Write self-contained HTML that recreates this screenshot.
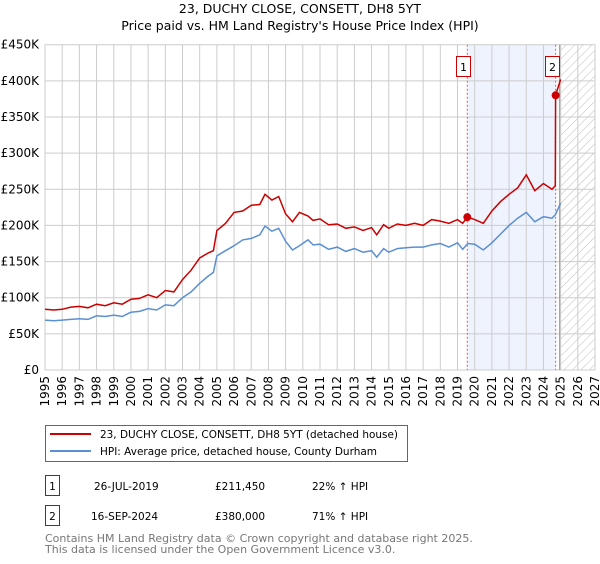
<!DOCTYPE html>
<html><head><meta charset="utf-8"><style>
body{margin:0;background:#fff;font-family:"DejaVu Sans","Liberation Sans",sans-serif;}
svg text{font-family:"DejaVu Sans","Liberation Sans",sans-serif;}
</style></head><body>
<svg id="chart" width="600" height="560" xmlns="http://www.w3.org/2000/svg">
<defs><pattern id="hatch" width="6" height="6" patternUnits="userSpaceOnUse" patternTransform="rotate(45)"><line x1="0" y1="0" x2="0" y2="6" stroke="#bbb" stroke-width="1"/></pattern></defs>
<text x="300" y="13" font-size="12.5" text-anchor="middle">23, DUCHY CLOSE, CONSETT, DH8 5YT</text>
<text x="300" y="30" font-size="12.5" text-anchor="middle">Price paid vs. HM Land Registry's House Price Index (HPI)</text>
<g id="plot"></g>
<rect x="45.5" y="425.5" width="362" height="36" fill="#fff" stroke="#666"/>
<line x1="50" y1="434" x2="91" y2="434" stroke="#cc0000" stroke-width="2"/>
<text x="100" y="438" font-size="10.5" textLength="298" lengthAdjust="spacingAndGlyphs">23, DUCHY CLOSE, CONSETT, DH8 5YT (detached house)</text>
<line x1="50" y1="451" x2="91" y2="451" stroke="#5b8fd4" stroke-width="2"/>
<text x="100" y="455" font-size="10.5" textLength="277" lengthAdjust="spacingAndGlyphs">HPI: Average price, detached house, County Durham</text>
<g font-size="10.5">
<rect x="45.5" y="475.5" width="14" height="20" fill="#fff" stroke="#cc0000"/><text x="52.5" y="490" text-anchor="middle">1</text>
<text x="94" y="490">26-JUL-2019</text><text x="215" y="490">£211,450</text><text x="312" y="490">22% ↑ HPI</text></g>
<g font-size="10.5">
<rect x="45.5" y="505.5" width="14" height="20" fill="#fff" stroke="#cc0000"/><text x="52.5" y="520" text-anchor="middle">2</text>
<text x="91" y="520">16-SEP-2024</text><text x="215" y="520">£380,000</text><text x="312" y="520">71% ↑ HPI</text></g>
<text x="45" y="542" font-size="11" fill="#777">Contains HM Land Registry data © Crown copyright and database right 2025.</text>
<text x="45" y="553" font-size="11" fill="#777">This data is licensed under the Open Government Licence v3.0.</text>
</svg>
<script>
const hpiYears=[1995,1995.5,1996,1996.5,1997,1997.5,1998,1998.5,1999,1999.5,2000,2000.5,2001,2001.5,2002,2002.5,2003,2003.5,2004,2004.5,2004.8,2005,2005.5,2006,2006.5,2007,2007.5,2007.8,2008.2,2008.6,2009,2009.4,2009.8,2010.3,2010.6,2011,2011.5,2012,2012.5,2013,2013.5,2014,2014.3,2014.7,2015,2015.5,2016,2016.5,2017,2017.5,2018,2018.5,2019,2019.3,2019.6,2020,2020.5,2021,2021.5,2022,2022.5,2023,2023.5,2024,2024.5,2024.7,2025];
const hpiValues=[69,68,69,70,71,70,75,74,76,74,80,81,85,83,90,89,100,108,120,130,135,158,165,172,180,182,187,199,192,196,178,166,172,180,173,174,167,170,164,168,163,165,156,168,163,168,169,170,170,173,175,170,176,167,175,174,166,176,188,200,210,218,205,212,210,215,231];
const redYears=[1995,1995.5,1996,1996.5,1997,1997.5,1998,1998.5,1999,1999.5,2000,2000.5,2001,2001.5,2002,2002.5,2003,2003.5,2004,2004.5,2004.8,2005,2005.5,2006,2006.5,2007,2007.5,2007.8,2008.2,2008.6,2009,2009.4,2009.8,2010.3,2010.6,2011,2011.5,2012,2012.5,2013,2013.5,2014,2014.3,2014.7,2015,2015.5,2016,2016.5,2017,2017.5,2018,2018.5,2019,2019.3,2019.57,2020,2020.5,2021,2021.5,2022,2022.5,2023,2023.5,2024,2024.5,2024.69,2024.71,2025];
const redValues=[84,83,84,87,88,86,91,89,93,91,98,99,104,100,110,108,125,138,155,162,165,193,203,218,220,228,229,243,235,240,216,205,218,213,207,209,201,202,196,198,193,197,187,201,196,202,200,203,200,208,206,203,208,203,211.45,208,203,220,233,243,252,270,248,258,250,255,380,402];
const sales=[[2019.57,211.45],[2024.71,380]];
const yTicks=[0,50,100,150,200,250,300,350,400,450];
const xTicks=[1995,1996,1997,1998,1999,2000,2001,2002,2003,2004,2005,2006,2007,2008,2009,2010,2011,2012,2013,2014,2015,2016,2017,2018,2019,2020,2021,2022,2023,2024,2025,2026,2027];
const X0=45,X1=595,Y0=370,Y1=44.7;
const xs=y=>X0+(y-1995)*(X1-X0)/32;
const ys=v=>Y0-v*(Y0-Y1)/450;
const NS="http://www.w3.org/2000/svg";
const g=document.getElementById('plot');
function mk(t,a){const e=document.createElementNS(NS,t);for(const k in a)e.setAttribute(k,a[k]);g.appendChild(e);return e;}
let e=mk('rect',{x:xs(2019.57),y:Y1,width:xs(2024.71)-xs(2019.57),height:Y0-Y1,fill:'#eef3fd'});


e=mk('rect',{x:xs(2025),y:Y1,width:X1-xs(2025),height:Y0-Y1,fill:'url(#hatch)'});


yTicks.forEach(v=>{
 const l=mk('line',{x1:X0,x2:X1,y1:ys(v),y2:ys(v),stroke:'#ccc'});
 
 
 const t=mk('text',{x:X0-6,y:ys(v)+4,'font-size':12,'text-anchor':'end'});
 t.textContent=v===0?'£0':'£'+v+'K';
 
 
});
xTicks.forEach(y=>{
 const l=mk('line',{x1:xs(y),x2:xs(y),y1:Y1,y2:Y0,stroke:'#ccc'});
 
 
 const t=mk('text',{x:0,y:0,'font-size':12,'text-anchor':'end',transform:`translate(${xs(y)+4},${Y0+6}) rotate(-90)`});
 t.textContent=y;
 
 
});
e=mk('line',{x1:xs(2025)-1,x2:xs(2025)-1,y1:Y1,y2:Y0,stroke:'#999'});


sales.forEach((s,i)=>{
 const l=mk('line',{x1:xs(s[0]),x2:xs(s[0]),y1:Y1,y2:Y0,stroke:'#e06060','stroke-dasharray':'2,2'});
 
 
});
const pts=(xa,va)=>xa.map((y,i)=>xs(y).toFixed(1)+','+ys(va[i]).toFixed(1)).join(' ');
e=mk('polyline',{points:pts(hpiYears,hpiValues),fill:'none',stroke:'#5b8fd4','stroke-width':1.5});


e=mk('polyline',{points:pts(redYears,redValues),fill:'none',stroke:'#cc0000','stroke-width':1.5});


sales.forEach((s,i)=>{
 const c=mk('circle',{cx:xs(s[0]),cy:ys(s[1]),r:4,fill:'#cc0000'});
 
 
 const bx=Math.round(xs(s[0])-11);
 const r=mk('rect',{x:bx+0.5,y:56.5,width:14,height:20,fill:'#fff',stroke:'#cc0000'});
 
 
 const t=mk('text',{x:bx+7.5,y:71,'font-size':11,'text-anchor':'middle'});
 t.textContent=String(i+1);
 
 
});
</script>
</body></html>
